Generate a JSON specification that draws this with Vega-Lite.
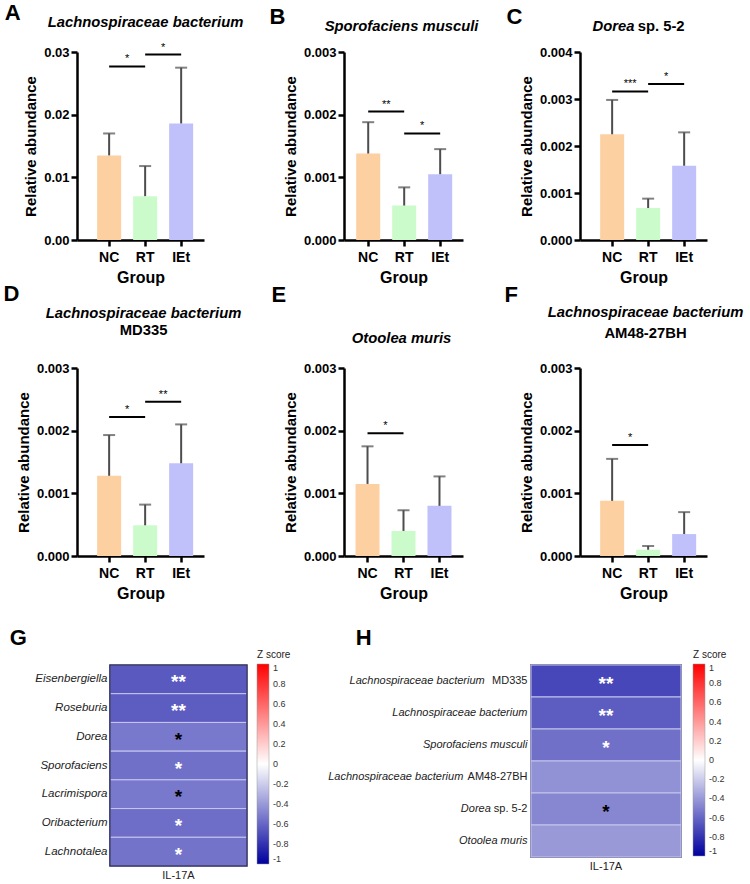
{
  "$schema": "https://vega.github.io/schema/vega-lite/v6.json",
  "padding": {"left": 3, "top": 1, "right": 3, "bottom": 3},
  "config": {
    "font": "Liberation Sans",
    "view": {"stroke": null},
    "title": {"color": "black"},
    "axis": {"domainColor": "black", "tickColor": "black", "labelColor": "black", "titleColor": "black", "grid": false, "labelFontWeight": "bold", "titleFontWeight": "bold", "domainWidth": 2.5, "tickWidth": 2.5, "tickSize": 6},
    "axisX": {"labelFontSize": 14, "titleFontSize": 16, "labelAngle": 0, "labelPadding": 4, "titlePadding": 5},
    "axisY": {"labelFontSize": 13, "titleFontSize": 15, "labelPadding": 2, "titlePadding": 5}
  },
  "datasets": {
    "bars": [
      {"panel": "A", "group": "NC", "mean": 0.0135, "upper": 0.0170},
      {"panel": "A", "group": "RT", "mean": 0.0070, "upper": 0.0118},
      {"panel": "A", "group": "IEt", "mean": 0.0186, "upper": 0.0275},
      {"panel": "B", "group": "NC", "mean": 0.00138, "upper": 0.00188},
      {"panel": "B", "group": "RT", "mean": 0.00055, "upper": 0.00084},
      {"panel": "B", "group": "IEt", "mean": 0.00105, "upper": 0.00145},
      {"panel": "C", "group": "NC", "mean": 0.00225, "upper": 0.00298},
      {"panel": "C", "group": "RT", "mean": 0.00068, "upper": 0.00088},
      {"panel": "C", "group": "IEt", "mean": 0.00158, "upper": 0.00229},
      {"panel": "D", "group": "NC", "mean": 0.00128, "upper": 0.00193},
      {"panel": "D", "group": "RT", "mean": 0.00049, "upper": 0.00082},
      {"panel": "D", "group": "IEt", "mean": 0.00148, "upper": 0.00210},
      {"panel": "E", "group": "NC", "mean": 0.00115, "upper": 0.00175},
      {"panel": "E", "group": "RT", "mean": 0.00040, "upper": 0.00073},
      {"panel": "E", "group": "IEt", "mean": 0.00080, "upper": 0.00127},
      {"panel": "F", "group": "NC", "mean": 0.00088, "upper": 0.00155},
      {"panel": "F", "group": "RT", "mean": 0.00010, "upper": 0.00016},
      {"panel": "F", "group": "IEt", "mean": 0.00035, "upper": 0.00070}
    ],
    "sig": [
      {"panel": "A", "from": "NC", "to": "RT", "y": 0.0277, "label": "*"},
      {"panel": "A", "from": "RT", "to": "IEt", "y": 0.0296, "label": "*"},
      {"panel": "B", "from": "NC", "to": "RT", "y": 0.00205, "label": "**"},
      {"panel": "B", "from": "RT", "to": "IEt", "y": 0.00170, "label": "*"},
      {"panel": "C", "from": "NC", "to": "RT", "y": 0.00316, "label": "***"},
      {"panel": "C", "from": "RT", "to": "IEt", "y": 0.00332, "label": "*"},
      {"panel": "D", "from": "NC", "to": "RT", "y": 0.00222, "label": "*"},
      {"panel": "D", "from": "RT", "to": "IEt", "y": 0.00246, "label": "**"},
      {"panel": "E", "from": "NC", "to": "RT", "y": 0.00196, "label": "*"},
      {"panel": "F", "from": "NC", "to": "RT", "y": 0.00177, "label": "*"}
    ],
    "heatG": [
      {"taxon": "Eisenbergiella", "marker": "IL-17A", "z": -0.65, "stars": "**", "tone": "light"},
      {"taxon": "Roseburia", "marker": "IL-17A", "z": -0.64, "stars": "**", "tone": "light"},
      {"taxon": "Dorea", "marker": "IL-17A", "z": -0.53, "stars": "*", "tone": "dark"},
      {"taxon": "Sporofaciens", "marker": "IL-17A", "z": -0.56, "stars": "*", "tone": "light"},
      {"taxon": "Lacrimispora", "marker": "IL-17A", "z": -0.53, "stars": "*", "tone": "dark"},
      {"taxon": "Oribacterium", "marker": "IL-17A", "z": -0.57, "stars": "*", "tone": "light"},
      {"taxon": "Lachnotalea", "marker": "IL-17A", "z": -0.55, "stars": "*", "tone": "light"}
    ],
    "heatH": [
      {"taxon": "Lachnospiraceae bacterium MD335", "marker": "IL-17A", "z": -0.72, "stars": "**", "tone": "light"},
      {"taxon": "Lachnospiraceae bacterium", "marker": "IL-17A", "z": -0.64, "stars": "**", "tone": "light"},
      {"taxon": "Sporofaciens musculi", "marker": "IL-17A", "z": -0.56, "stars": "*", "tone": "light"},
      {"taxon": "Lachnospiraceae bacterium AM48-27BH", "marker": "IL-17A", "z": -0.43, "stars": "", "tone": "light"},
      {"taxon": "Dorea sp. 5-2", "marker": "IL-17A", "z": -0.47, "stars": "*", "tone": "dark"},
      {"taxon": "Otoolea muris", "marker": "IL-17A", "z": -0.40, "stars": "", "tone": "light"}
    ]
  },
  "concat": [
    {
      "concat": [
        {
          "title": {"text": "A", "anchor": "start", "frame": "bounds", "fontSize": 22, "fontWeight": "bold", "offset": 0, "dx": -19, "dy": 10},
          "vconcat": [{
            "width": 127, "height": 188,
            "title": {"text": "Lachnospiraceae bacterium", "fontSize": 14.8, "fontStyle": "italic", "fontWeight": "bold", "frame": "group", "anchor": "middle", "dx": 5, "offset": 12},
            "layer": [
              {"data": {"name": "bars"}, "transform": [{"filter": "datum.panel === 'A'"}], "mark": "bar",
               "encoding": {
                 "x": {"field": "group", "type": "nominal", "title": "Group", "scale": {"domain": ["NC", "RT", "IEt"], "paddingInner": 0.333, "paddingOuter": 0.43, "align": 0.65}},
                 "y": {"field": "mean", "type": "quantitative", "title": "Relative abundance", "scale": {"domain": [0, 0.03], "nice": false}, "axis": {"values": [0, 0.01, 0.02, 0.03], "format": ".2f"}},
                 "color": {"field": "group", "type": "nominal", "scale": {"domain": ["NC", "RT", "IEt"], "range": ["#FDD0A2", "#CCFBCB", "#C0C1FB"]}, "legend": null}}},
              {"data": {"name": "bars"}, "transform": [{"filter": "datum.panel === 'A'"}], "mark": {"type": "rule", "color": "#4d4d4d", "strokeWidth": 2},
               "encoding": {"x": {"field": "group", "type": "nominal", "title": "Group"}, "y": {"field": "mean", "type": "quantitative", "title": "Relative abundance"}, "y2": {"field": "upper"}}},
              {"data": {"name": "bars"}, "transform": [{"filter": "datum.panel === 'A'"}], "mark": {"type": "tick", "color": "#4d4d4d", "thickness": 2, "size": 12},
               "encoding": {"x": {"field": "group", "type": "nominal", "title": "Group"}, "y": {"field": "upper", "type": "quantitative", "title": "Relative abundance"}}},
              {"data": {"name": "sig"}, "transform": [{"filter": "datum.panel === 'A'"}], "mark": {"type": "rule", "color": "black", "strokeWidth": 2},
               "encoding": {"x": {"field": "from", "type": "nominal", "title": "Group"}, "x2": {"field": "to"}, "y": {"field": "y", "type": "quantitative", "title": "Relative abundance"}}},
              {"data": {"name": "sig"}, "transform": [{"filter": "datum.panel === 'A'"}], "mark": {"type": "text", "fontSize": 11, "dy": -7, "color": "black"},
               "encoding": {"x": {"field": "to", "type": "nominal", "title": "Group", "bandPosition": -0.25}, "y": {"field": "y", "type": "quantitative", "title": "Relative abundance"}, "text": {"field": "label"}}}
            ]
          }]
        },
        {
          "title": {"text": "B", "anchor": "start", "frame": "bounds", "fontSize": 22, "fontWeight": "bold", "offset": 0, "dx": -14, "dy": 10},
          "vconcat": [{
            "width": 119, "height": 188,
            "title": {"text": "Sporofaciens musculi", "fontSize": 14.8, "fontStyle": "italic", "fontWeight": "bold", "frame": "group", "anchor": "middle", "dx": -2, "offset": 12},
            "layer": [
              {"data": {"name": "bars"}, "transform": [{"filter": "datum.panel === 'B'"}], "mark": "bar",
               "encoding": {
                 "x": {"field": "group", "type": "nominal", "title": "Group", "scale": {"domain": ["NC", "RT", "IEt"], "paddingInner": 0.333, "paddingOuter": 0.32, "align": 0.53}},
                 "y": {"field": "mean", "type": "quantitative", "title": "Relative abundance", "scale": {"domain": [0, 0.003], "nice": false}, "axis": {"values": [0, 0.001, 0.002, 0.003], "format": ".3f"}},
                 "color": {"field": "group", "type": "nominal", "scale": {"domain": ["NC", "RT", "IEt"], "range": ["#FDD0A2", "#CCFBCB", "#C0C1FB"]}, "legend": null}}},
              {"data": {"name": "bars"}, "transform": [{"filter": "datum.panel === 'B'"}], "mark": {"type": "rule", "color": "#4d4d4d", "strokeWidth": 2},
               "encoding": {"x": {"field": "group", "type": "nominal", "title": "Group"}, "y": {"field": "mean", "type": "quantitative", "title": "Relative abundance"}, "y2": {"field": "upper"}}},
              {"data": {"name": "bars"}, "transform": [{"filter": "datum.panel === 'B'"}], "mark": {"type": "tick", "color": "#4d4d4d", "thickness": 2, "size": 12},
               "encoding": {"x": {"field": "group", "type": "nominal", "title": "Group"}, "y": {"field": "upper", "type": "quantitative", "title": "Relative abundance"}}},
              {"data": {"name": "sig"}, "transform": [{"filter": "datum.panel === 'B'"}], "mark": {"type": "rule", "color": "black", "strokeWidth": 2},
               "encoding": {"x": {"field": "from", "type": "nominal", "title": "Group"}, "x2": {"field": "to"}, "y": {"field": "y", "type": "quantitative", "title": "Relative abundance"}}},
              {"data": {"name": "sig"}, "transform": [{"filter": "datum.panel === 'B'"}], "mark": {"type": "text", "fontSize": 11, "dy": -7, "color": "black"},
               "encoding": {"x": {"field": "to", "type": "nominal", "title": "Group", "bandPosition": -0.25}, "y": {"field": "y", "type": "quantitative", "title": "Relative abundance"}, "text": {"field": "label"}}}
            ]
          }]
        },
        {
          "title": {"text": "C", "anchor": "start", "frame": "bounds", "fontSize": 22, "fontWeight": "bold", "offset": 0, "dx": -13, "dy": 10},
          "vconcat": [{
            "width": 127, "height": 188,
            "title": {"text": "Dorea", "subtitle": "\u200b\u00a0\u00a0\u00a0\u00a0\u00a0\u00a0\u00a0\u00a0\u00a0\u00a0\u00a0sp. 5-2", "fontSize": 14.8, "fontStyle": "italic", "fontWeight": "bold", "subtitleFontSize": 14.8, "subtitleFontStyle": "normal", "subtitleFontWeight": "bold", "subtitleColor": "black", "subtitlePadding": -15, "align": "left", "frame": "group", "anchor": "middle", "dx": -51, "offset": 12},
            "layer": [
              {"data": {"name": "bars"}, "transform": [{"filter": "datum.panel === 'C'"}], "mark": "bar",
               "encoding": {
                 "x": {"field": "group", "type": "nominal", "title": "Group", "scale": {"domain": ["NC", "RT", "IEt"], "paddingInner": 0.333, "paddingOuter": 0.43, "align": 0.65}},
                 "y": {"field": "mean", "type": "quantitative", "title": "Relative abundance", "scale": {"domain": [0, 0.004], "nice": false}, "axis": {"values": [0, 0.001, 0.002, 0.003, 0.004], "format": ".3f"}},
                 "color": {"field": "group", "type": "nominal", "scale": {"domain": ["NC", "RT", "IEt"], "range": ["#FDD0A2", "#CCFBCB", "#C0C1FB"]}, "legend": null}}},
              {"data": {"name": "bars"}, "transform": [{"filter": "datum.panel === 'C'"}], "mark": {"type": "rule", "color": "#4d4d4d", "strokeWidth": 2},
               "encoding": {"x": {"field": "group", "type": "nominal", "title": "Group"}, "y": {"field": "mean", "type": "quantitative", "title": "Relative abundance"}, "y2": {"field": "upper"}}},
              {"data": {"name": "bars"}, "transform": [{"filter": "datum.panel === 'C'"}], "mark": {"type": "tick", "color": "#4d4d4d", "thickness": 2, "size": 12},
               "encoding": {"x": {"field": "group", "type": "nominal", "title": "Group"}, "y": {"field": "upper", "type": "quantitative", "title": "Relative abundance"}}},
              {"data": {"name": "sig"}, "transform": [{"filter": "datum.panel === 'C'"}], "mark": {"type": "rule", "color": "black", "strokeWidth": 2},
               "encoding": {"x": {"field": "from", "type": "nominal", "title": "Group"}, "x2": {"field": "to"}, "y": {"field": "y", "type": "quantitative", "title": "Relative abundance"}}},
              {"data": {"name": "sig"}, "transform": [{"filter": "datum.panel === 'C'"}], "mark": {"type": "text", "fontSize": 11, "dy": -7, "color": "black"},
               "encoding": {"x": {"field": "to", "type": "nominal", "title": "Group", "bandPosition": -0.25}, "y": {"field": "y", "type": "quantitative", "title": "Relative abundance"}, "text": {"field": "label"}}}
            ]
          }]
        },
        {
          "title": {"text": "D", "anchor": "start", "frame": "bounds", "fontSize": 22, "fontWeight": "bold", "offset": 0, "dx": -13, "dy": 0},
          "vconcat": [{
            "width": 127, "height": 188,
            "title": {"text": "Lachnospiraceae bacterium", "subtitle": "MD335", "fontSize": 14.8, "fontStyle": "italic", "fontWeight": "bold", "subtitleFontSize": 14.8, "subtitleFontStyle": "normal", "subtitleFontWeight": "bold", "subtitleColor": "black", "subtitlePadding": 2, "frame": "group", "anchor": "middle", "dx": 3, "offset": 24},
            "layer": [
              {"data": {"name": "bars"}, "transform": [{"filter": "datum.panel === 'D'"}], "mark": "bar",
               "encoding": {
                 "x": {"field": "group", "type": "nominal", "title": "Group", "scale": {"domain": ["NC", "RT", "IEt"], "paddingInner": 0.333, "paddingOuter": 0.43, "align": 0.65}},
                 "y": {"field": "mean", "type": "quantitative", "title": "Relative abundance", "scale": {"domain": [0, 0.003], "nice": false}, "axis": {"values": [0, 0.001, 0.002, 0.003], "format": ".3f"}},
                 "color": {"field": "group", "type": "nominal", "scale": {"domain": ["NC", "RT", "IEt"], "range": ["#FDD0A2", "#CCFBCB", "#C0C1FB"]}, "legend": null}}},
              {"data": {"name": "bars"}, "transform": [{"filter": "datum.panel === 'D'"}], "mark": {"type": "rule", "color": "#4d4d4d", "strokeWidth": 2},
               "encoding": {"x": {"field": "group", "type": "nominal", "title": "Group"}, "y": {"field": "mean", "type": "quantitative", "title": "Relative abundance"}, "y2": {"field": "upper"}}},
              {"data": {"name": "bars"}, "transform": [{"filter": "datum.panel === 'D'"}], "mark": {"type": "tick", "color": "#4d4d4d", "thickness": 2, "size": 12},
               "encoding": {"x": {"field": "group", "type": "nominal", "title": "Group"}, "y": {"field": "upper", "type": "quantitative", "title": "Relative abundance"}}},
              {"data": {"name": "sig"}, "transform": [{"filter": "datum.panel === 'D'"}], "mark": {"type": "rule", "color": "black", "strokeWidth": 2},
               "encoding": {"x": {"field": "from", "type": "nominal", "title": "Group"}, "x2": {"field": "to"}, "y": {"field": "y", "type": "quantitative", "title": "Relative abundance"}}},
              {"data": {"name": "sig"}, "transform": [{"filter": "datum.panel === 'D'"}], "mark": {"type": "text", "fontSize": 11, "dy": -7, "color": "black"},
               "encoding": {"x": {"field": "to", "type": "nominal", "title": "Group", "bandPosition": -0.25}, "y": {"field": "y", "type": "quantitative", "title": "Relative abundance"}, "text": {"field": "label"}}}
            ]
          }]
        },
        {
          "title": {"text": "E", "anchor": "start", "frame": "bounds", "fontSize": 22, "fontWeight": "bold", "offset": 0, "dx": -12, "dy": -24},
          "vconcat": [{
            "width": 119, "height": 188,
            "title": {"text": "Otoolea muris", "fontSize": 14.8, "fontStyle": "italic", "fontWeight": "bold", "frame": "group", "anchor": "middle", "dx": -2, "offset": 16},
            "layer": [
              {"data": {"name": "bars"}, "transform": [{"filter": "datum.panel === 'E'"}], "mark": "bar",
               "encoding": {
                 "x": {"field": "group", "type": "nominal", "title": "Group", "scale": {"domain": ["NC", "RT", "IEt"], "paddingInner": 0.333, "paddingOuter": 0.32, "align": 0.5}},
                 "y": {"field": "mean", "type": "quantitative", "title": "Relative abundance", "scale": {"domain": [0, 0.003], "nice": false}, "axis": {"values": [0, 0.001, 0.002, 0.003], "format": ".3f"}},
                 "color": {"field": "group", "type": "nominal", "scale": {"domain": ["NC", "RT", "IEt"], "range": ["#FDD0A2", "#CCFBCB", "#C0C1FB"]}, "legend": null}}},
              {"data": {"name": "bars"}, "transform": [{"filter": "datum.panel === 'E'"}], "mark": {"type": "rule", "color": "#4d4d4d", "strokeWidth": 2},
               "encoding": {"x": {"field": "group", "type": "nominal", "title": "Group"}, "y": {"field": "mean", "type": "quantitative", "title": "Relative abundance"}, "y2": {"field": "upper"}}},
              {"data": {"name": "bars"}, "transform": [{"filter": "datum.panel === 'E'"}], "mark": {"type": "tick", "color": "#4d4d4d", "thickness": 2, "size": 12},
               "encoding": {"x": {"field": "group", "type": "nominal", "title": "Group"}, "y": {"field": "upper", "type": "quantitative", "title": "Relative abundance"}}},
              {"data": {"name": "sig"}, "transform": [{"filter": "datum.panel === 'E'"}], "mark": {"type": "rule", "color": "black", "strokeWidth": 2},
               "encoding": {"x": {"field": "from", "type": "nominal", "title": "Group"}, "x2": {"field": "to"}, "y": {"field": "y", "type": "quantitative", "title": "Relative abundance"}}},
              {"data": {"name": "sig"}, "transform": [{"filter": "datum.panel === 'E'"}], "mark": {"type": "text", "fontSize": 11, "dy": -7, "color": "black"},
               "encoding": {"x": {"field": "to", "type": "nominal", "title": "Group", "bandPosition": -0.25}, "y": {"field": "y", "type": "quantitative", "title": "Relative abundance"}, "text": {"field": "label"}}}
            ]
          }]
        },
        {
          "title": {"text": "F", "anchor": "start", "frame": "bounds", "fontSize": 22, "fontWeight": "bold", "offset": 0, "dx": -15, "dy": 2},
          "vconcat": [{
            "width": 127, "height": 188,
            "title": {"text": "Lachnospiraceae bacterium", "subtitle": "AM48-27BH", "fontSize": 14.8, "fontStyle": "italic", "fontWeight": "bold", "subtitleFontSize": 14.8, "subtitleFontStyle": "normal", "subtitleFontWeight": "bold", "subtitleColor": "black", "subtitlePadding": 6, "frame": "group", "anchor": "middle", "dx": 2, "offset": 21},
            "layer": [
              {"data": {"name": "bars"}, "transform": [{"filter": "datum.panel === 'F'"}], "mark": "bar",
               "encoding": {
                 "x": {"field": "group", "type": "nominal", "title": "Group", "scale": {"domain": ["NC", "RT", "IEt"], "paddingInner": 0.333, "paddingOuter": 0.43, "align": 0.65}},
                 "y": {"field": "mean", "type": "quantitative", "title": "Relative abundance", "scale": {"domain": [0, 0.003], "nice": false}, "axis": {"values": [0, 0.001, 0.002, 0.003], "format": ".3f"}},
                 "color": {"field": "group", "type": "nominal", "scale": {"domain": ["NC", "RT", "IEt"], "range": ["#FDD0A2", "#CCFBCB", "#C0C1FB"]}, "legend": null}}},
              {"data": {"name": "bars"}, "transform": [{"filter": "datum.panel === 'F'"}], "mark": {"type": "rule", "color": "#4d4d4d", "strokeWidth": 2},
               "encoding": {"x": {"field": "group", "type": "nominal", "title": "Group"}, "y": {"field": "mean", "type": "quantitative", "title": "Relative abundance"}, "y2": {"field": "upper"}}},
              {"data": {"name": "bars"}, "transform": [{"filter": "datum.panel === 'F'"}], "mark": {"type": "tick", "color": "#4d4d4d", "thickness": 2, "size": 12},
               "encoding": {"x": {"field": "group", "type": "nominal", "title": "Group"}, "y": {"field": "upper", "type": "quantitative", "title": "Relative abundance"}}},
              {"data": {"name": "sig"}, "transform": [{"filter": "datum.panel === 'F'"}], "mark": {"type": "rule", "color": "black", "strokeWidth": 2},
               "encoding": {"x": {"field": "from", "type": "nominal", "title": "Group"}, "x2": {"field": "to"}, "y": {"field": "y", "type": "quantitative", "title": "Relative abundance"}}},
              {"data": {"name": "sig"}, "transform": [{"filter": "datum.panel === 'F'"}], "mark": {"type": "text", "fontSize": 11, "dy": -7, "color": "black"},
               "encoding": {"x": {"field": "to", "type": "nominal", "title": "Group", "bandPosition": -0.25}, "y": {"field": "y", "type": "quantitative", "title": "Relative abundance"}, "text": {"field": "label"}}}
            ]
          }]
        }
      ],
      "columns": 3,
      "align": "each",
      "spacing": {"column": 25, "row": -2}
    },
    {
      "concat": [
        {
          "title": {"text": "G", "anchor": "start", "frame": "bounds", "fontSize": 22, "fontWeight": "bold", "offset": 8, "dx": -25, "dy": 8},
          "width": 170, "height": 201,
          "data": {"name": "heatG"},
          "layer": [
            {"mark": {"type": "rect", "stroke": "#c6c6ee", "strokeWidth": 1},
             "encoding": {
               "y": {"field": "taxon", "type": "nominal", "sort": null, "title": null, "axis": {"labelFontStyle": "italic", "labelFontWeight": "normal", "labelFontSize": 11.5, "labelColor": "#222", "ticks": false, "domain": false, "labelPadding": -30}},
               "x": {"field": "marker", "type": "nominal", "title": null, "scale": {"paddingInner": 0, "paddingOuter": 0.12, "align": 1}, "axis": {"labelAngle": 0, "labelFontWeight": "normal", "labelFontSize": 11, "labelColor": "#222", "ticks": false, "domain": false, "labelPadding": 3}},
               "color": {"field": "z", "type": "quantitative", "title": "Z score",
                 "scale": {"domain": [-1, 0, 1], "range": ["#00009E", "#ffffff", "#ff0000"], "interpolate": "rgb"},
                 "legend": {"orient": "none", "legendX": 180, "legendY": -15, "direction": "vertical", "gradientLength": 200, "gradientThickness": 12, "titleFontSize": 10, "titleFontWeight": "normal", "titleColor": "#222", "titlePadding": 4, "labelFontSize": 9, "labelColor": "#333", "labelOffset": 4, "values": [-1, -0.8, -0.6, -0.4, -0.2, 0, 0.2, 0.4, 0.6, 0.8, 1], "labelOverlap": false, "format": "~g", "labelExpr": "replace(datum.label, '\u2212', '-')", "gradientStrokeColor": "#999", "gradientStrokeWidth": 0.5}}}},
            {"transform": [{"aggregate": [{"op": "count", "as": "rows"}], "groupby": ["marker"]}],
             "mark": {"type": "rect", "filled": false, "stroke": "#2f2f62", "strokeWidth": 1.5},
             "encoding": {"x": {"field": "marker", "type": "nominal"}}},
            {"mark": {"type": "text", "fontSize": 19, "fontWeight": "bold", "baseline": "middle", "dy": 3},
             "encoding": {
               "y": {"field": "taxon", "type": "nominal", "sort": null},
               "x": {"field": "marker", "type": "nominal"},
               "text": {"field": "stars"},
               "color": {"field": "tone", "type": "nominal", "scale": {"domain": ["light", "dark"], "range": ["#ffffff", "#000000"]}, "legend": null}}}
          ],
          "resolve": {"scale": {"color": "independent"}}
        },
        {
          "title": {"text": "H", "anchor": "start", "frame": "bounds", "fontSize": 22, "fontWeight": "bold", "offset": 12, "dx": 28, "dy": 12},
          "width": 150, "height": 192,
          "data": {"name": "heatH"},
          "view": {"stroke": "#2f2f62", "strokeWidth": 1.5},
          "layer": [
            {"mark": {"type": "rect", "stroke": "#c6c6ee", "strokeWidth": 1},
             "encoding": {
               "y": {"field": "taxon", "type": "nominal", "sort": null, "title": null, "axis": {"orient": "left", "labelFontStyle": "italic", "labelFontWeight": "normal", "labelFontSize": 11, "labelColor": "#222", "ticks": false, "domain": false, "labelPadding": 4, "labelLimit": 320,
                 "labelExpr": "datum.value === 'Lachnospiraceae bacterium MD335' ? 'Lachnospiraceae bacterium\u00a0\u00a0\u00a0\u00a0\u00a0\u00a0\u00a0\u00a0\u00a0\u00a0\u00a0\u00a0\u00a0\u00a0\u200b' : datum.value === 'Lachnospiraceae bacterium AM48-27BH' ? 'Lachnospiraceae bacterium\u00a0\u00a0\u00a0\u00a0\u00a0\u00a0\u00a0\u00a0\u00a0\u00a0\u00a0\u00a0\u00a0\u00a0\u00a0\u00a0\u00a0\u00a0\u00a0\u00a0\u00a0\u200b' : datum.value === 'Dorea sp. 5-2' ? 'Dorea\u00a0\u00a0\u00a0\u00a0\u00a0\u00a0\u00a0\u00a0\u00a0\u00a0\u00a0\u00a0\u200b' : datum.value"}},
               "x": {"field": "marker", "type": "nominal", "title": null, "axis": {"labelAngle": 0, "labelFontWeight": "normal", "labelFontSize": 11, "labelColor": "#222", "ticks": false, "domain": false, "labelPadding": 3}},
               "color": {"field": "z", "type": "quantitative", "title": "Z score",
                 "scale": {"domain": [-1, 0, 1], "range": ["#00009E", "#ffffff", "#ff0000"], "interpolate": "rgb"},
                 "legend": {"orient": "none", "legendX": 162, "legendY": -15, "direction": "vertical", "gradientLength": 192, "gradientThickness": 12, "titleFontSize": 10, "titleFontWeight": "normal", "titleColor": "#222", "titlePadding": 4, "labelFontSize": 9, "labelColor": "#333", "labelOffset": 4, "values": [-1, -0.8, -0.6, -0.4, -0.2, 0, 0.2, 0.4, 0.6, 0.8, 1], "labelOverlap": false, "format": "~g", "labelExpr": "replace(datum.label, '\u2212', '-')", "gradientStrokeColor": "#999", "gradientStrokeWidth": 0.5}}}},
            {"mark": {"type": "text", "fontSize": 19, "fontWeight": "bold", "baseline": "middle", "dy": 3},
             "encoding": {
               "y": {"field": "taxon", "type": "nominal", "sort": null, "title": null, "axis": {"orient": "left", "labelFontStyle": "normal", "labelFontWeight": "normal", "labelFontSize": 11, "labelColor": "#222", "ticks": false, "domain": false, "labelPadding": 4, "labelLimit": 320,
                 "labelExpr": "datum.value === 'Lachnospiraceae bacterium MD335' ? 'MD335' : datum.value === 'Lachnospiraceae bacterium AM48-27BH' ? 'AM48-27BH' : datum.value === 'Dorea sp. 5-2' ? 'sp. 5-2' : ''"}},
               "x": {"field": "marker", "type": "nominal"},
               "text": {"field": "stars"},
               "color": {"field": "tone", "type": "nominal", "scale": {"domain": ["light", "dark"], "range": ["#ffffff", "#000000"]}, "legend": null}}}
          ],
          "resolve": {"scale": {"color": "independent"}, "axis": {"y": "independent"}}
        }
      ],
      "columns": 2,
      "align": "none",
      "spacing": 35
    }
  ],
  "columns": 1,
  "align": "none",
  "spacing": 25
}
